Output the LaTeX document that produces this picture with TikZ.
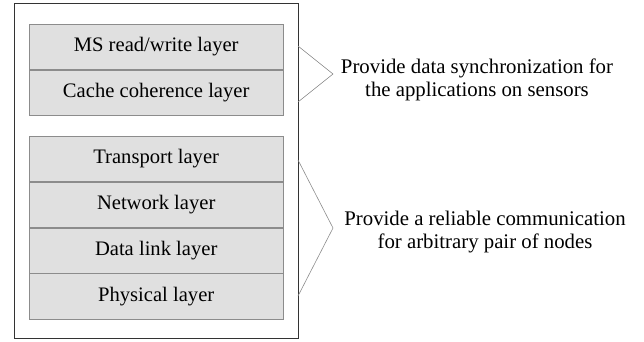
\documentclass[tikz,border=0pt]{standalone}
\usepackage{fontspec}
\setmainfont{Liberation Serif}
\usetikzlibrary{positioning}
\tikzset{
  layer/.style={draw=black!45, fill=black!12, minimum width=254pt, minimum height=45.4pt,
    inner sep=0pt, font=\fontsize{20.6}{23}\selectfont},
  brace/.style={draw=black!45, line width=0.6pt},
  note/.style={align=center, font=\fontsize{20.8}{23}\selectfont}
}
\begin{document}
\begin{tikzpicture}[x=1pt, y=-1pt]
  \useasboundingbox (0,0) rectangle (644,341);
  \draw[black!80, line width=0.7pt] (14,3) rectangle (298,338);
  % upper stack
  \node[layer, anchor=north west] (ms) at (29,24) {MS read/write layer};
  \node[layer, below=0pt of ms] (cache) {Cache coherence layer};
  % lower stack
  \node[layer, anchor=north west] (trans) at (29,136) {Transport layer};
  \node[layer, below=0pt of trans] (net) {Network layer};
  \node[layer, below=0pt of net] (link) {Data link layer};
  \node[layer, below=0pt of link] (phy) {Physical layer};
  % brackets
  \coordinate (a1) at (298,46);
  \coordinate (a2) at (333,74);
  \coordinate (a3) at (298,102);
  \coordinate (b1) at (298,160);
  \coordinate (b2) at (333,228);
  \coordinate (b3) at (298,296);
  \draw[brace] (a1) -- (a2) -- (a3);
  \draw[brace] (b1) -- (b2) -- (b3);
  \node[note] (sync) at (477,80) {Provide data synchronization for\\the applications on sensors};
  \node[note] (comm) at (485,232) {Provide a reliable communication\\for arbitrary pair of nodes};
\end{tikzpicture}
\end{document}
